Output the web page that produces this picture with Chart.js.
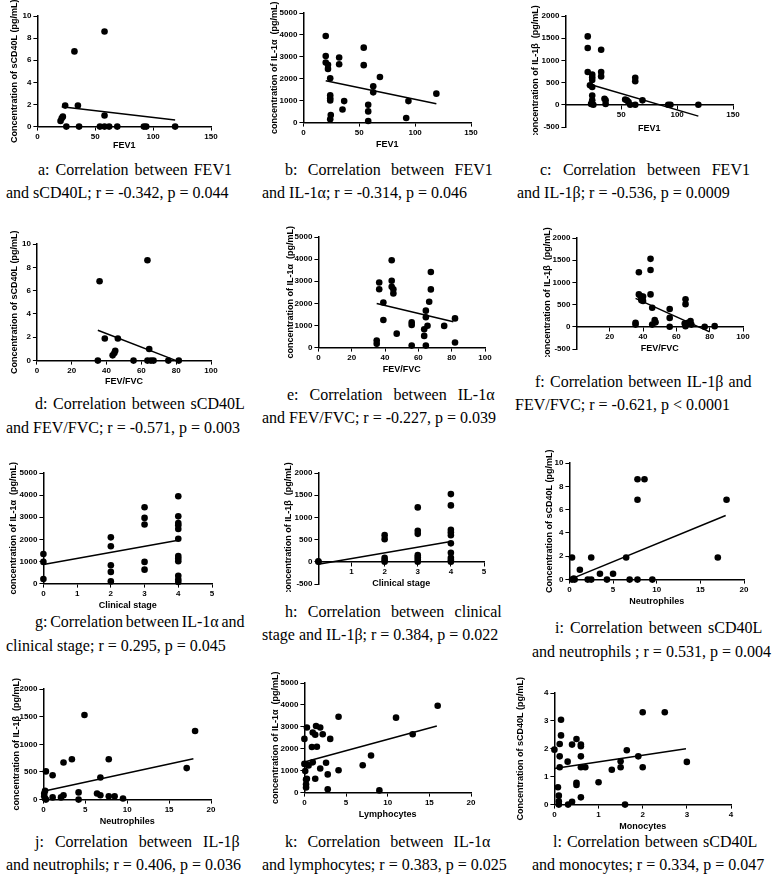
<!DOCTYPE html>
<html>
<head>
<meta charset="utf-8">
<script src="https://cdn.jsdelivr.net/npm/chart.js@4.4.1/dist/chart.umd.min.js"></script>
<style>
  body { margin: 0; background: #fff; width: 778px; height: 878px; position: relative; overflow: hidden; }
  canvas { position: absolute; }
  .cap { position: absolute; font-family: 'Liberation Serif', 'Times New Roman', serif; font-size: 16px; line-height: 18px; color: #000; white-space: nowrap; }
</style>
</head>
<body>
<script>
// a: FEV1 vs sCD40L
const aX = [58, 32, 24, 35, 22, 21, 20, 58, 25, 36, 54, 58, 62, 69, 92, 94, 119];
const aY = [8.6, 6.8, 1.9, 1.9, 0.9, 0.75, 0.5, 1.0, 0, 0, 0, 0, 0, 0, 0, 0, 0];
const aFitX = [21, 119], aFitY = [1.8, 0.6];
// b: FEV1 vs IL-1a
const bX = [20, 20, 20, 22, 22, 24, 24, 24, 24, 24.5, 24, 32, 32, 36.5, 35, 54, 54, 58, 58, 58, 62.5, 62.5, 68.5, 92, 94, 119];
const bY = [3950, 3040, 2740, 2640, 2450, 2020, 1250, 1110, 1010, 350, 150, 2970, 2660, 980, 600, 3420, 2620, 810, 510, 75, 1660, 1380, 2080, 210, 980, 1320];
const bFitX = [20, 119], bFitY = [1910, 860];
// c: FEV1 vs IL-1b
const cX = [20, 20, 20, 22, 24, 24, 24, 24, 24, 24, 23, 25, 32, 32, 32, 35, 36, 36, 53.5, 55, 56.5, 58, 62.5, 62.5, 62.5, 69, 92, 94, 119];
const cY = [1540, 1280, 740, 440, 680, 620, 560, 400, 210, 100, 20, 0, 1240, 740, 640, 135, 100, 20, 120, 100, 60, 0, 610, 530, 0, 100, 0, 0, 0];
const cFitX = [20, 119], cFitY = [475, -255];
// d: FEV/FVC vs sCD40L
const dX = [36, 63.5, 39, 46.5, 45, 44.5, 43.5, 64.5, 35, 55.5, 63.5, 65.5, 67, 75.5, 81.5];
const dY = [6.8, 8.6, 1.9, 1.9, 0.85, 0.65, 0.45, 1.0, 0, 0, 0, 0, 0, 0, 0];
const dFitX = [35, 80], dFitY = [2.6, 0];
// e: FEV/FVC vs IL-1a
const eX = [36.5, 36.5, 35, 35, 39, 39, 44, 44, 44, 45, 45, 47, 56, 56, 56, 63.5, 63.5, 64.5, 64.5, 64.5, 65.5, 66.5, 67.5, 67.5, 75.5, 82, 82];
const eY = [2940, 2640, 320, 170, 2040, 1250, 3950, 3020, 2750, 2640, 2450, 630, 1140, 1020, 90, 830, 530, 90, 1670, 1370, 990, 2070, 3420, 2630, 980, 1320, 230];
const eFitX = [35, 81], eFitY = [1995, 1170];
// f: FEV/FVC vs IL-1b
const fX = [35.5, 35.5, 37.5, 37.5, 38.5, 39, 40, 40, 39.5, 44.5, 44.5, 44.5, 45.5, 45.5, 47, 47.5, 56, 56, 56, 65.5, 65.5, 65, 65.5, 67, 68.5, 69, 77, 83];
const fY = [90, 50, 1230, 730, 690, 600, 680, 580, 640, 1530, 1280, 730, 430, 50, 150, 100, 400, 200, 0, 620, 510, 75, 15, 90, 130, 50, 0, 15];
const fFitX = [35.5, 80], fFitY = [640, -115];
// g: clinical stage vs IL-1a
const gX = [0, 0, 0, 2, 2, 2, 2, 2, 3, 3, 3, 3, 3, 4, 4, 4, 4, 4, 4, 4, 4, 4, 4, 4, 4];
const gY = [1340, 980, 210, 2090, 1690, 830, 530, 100, 3450, 2970, 2670, 980, 630, 3950, 3040, 2740, 2640, 2470, 2030, 1250, 1130, 1010, 350, 180, 75];
const gFitX = [0, 4], gFitY = [860, 1960];
// h: clinical stage vs IL-1b
const hX = [0, 0, 2, 2, 2, 2, 2, 3, 3, 3, 3, 3, 3, 3, 4, 4, 4, 4, 4, 4, 4, 4, 4, 4];
const hY = [0, 10, 600, 510, 90, 40, 0, 1225, 700, 630, 150, 100, 50, 0, 1525, 1270, 720, 665, 600, 415, 205, 90, 40, 0];
const hFitX = [0, 4], hFitY = [-55, 455];
// i: neutrophils vs sCD40L
const iX = [0.3, 0.3, 0.5, 0.6, 1.2, 2.1, 2.5, 2.5, 3.5, 4.3, 5, 6.5, 6.9, 7.8, 7.8, 7.8, 8.6, 9.5, 17, 18];
const iY = [1.9, 0, 0.1, 0, 0.85, 0, 0, 1.9, 0.5, 0, 0.5, 1.9, 0, 8.6, 6.85, 0, 8.6, 0, 1.9, 6.85];
const iFitX = [0, 17.9], iFitY = [0, 5.5];
// j: neutrophils vs IL-1b
const jX = [0.3, 0.2, 0.1, 0.1, 0.2, 0.3, 1.1, 1.1, 2.1, 2.4, 2.4, 3.4, 4.2, 4.2, 4.9, 6.4, 6.8, 6.8, 7.8, 7.8, 8.5, 9.5, 17.1, 18.1];
const jY = [510, 160, 110, 60, 20, 0, 440, 40, 40, 80, 670, 730, 130, 0, 1530, 110, 80, 400, 730, 60, 60, 20, 570, 1240];
const jFitX = [0, 17.9], jFitY = [150, 740];
// k: lymphocytes vs IL-1a
const kX = [0, 0, 0.1, 0.2, 0.2, 0.2, 0.3, 0.3, 0.3, 0.5, 0.9, 1.0, 1.0, 1.3, 1.4, 1.5, 1.9, 1.9, 1.3, 2.2, 2.6, 2.8, 2.8, 3.1, 4.1, 4.1, 7, 8, 9, 11, 13, 16];
const kY = [2450, 1310, 980, 600, 380, 230, 2970, 1280, 630, 1240, 2080, 1380, 2740, 2640, 3040, 2090, 2970, 1100, 630, 2660, 1360, 830, 150, 2450, 3460, 1020, 1250, 1690, 100, 3420, 2660, 3960];
const kFitX = [0, 15.9], kFitY = [1400, 3040];
// l: monocytes vs sCD40L
const lX = [0, 0.08, 0.1, 0.1, 0.1, 0.12, 0.12, 0.12, 0.15, 0.15, 0.3, 0.31, 0.4, 0.4, 0.5, 0.5, 0.5, 0.6, 0.6, 0.6, 0.6, 0.6, 0.7, 1, 1.3, 1.5, 1.5, 1.6, 1.64, 1.9, 2.0, 2.0, 2.5, 3.0];
const lY = [1.97, 0.62, 0.32, 0.12, 0, 2.17, 1.73, 1.34, 3.04, 2.48, 1.54, 0, 0.1, 2.15, 2.35, 0.78, 0.7, 2.15, 2.09, 1.73, 1.34, 0.26, 1.34, 0.8, 1.25, 1.34, 1.55, 0, 1.95, 1.73, 3.31, 1.34, 3.31, 1.53];
const lFitX = [0, 2.98], lFitY = [1.29, 2.0];

const SANS = "'Liberation Sans', Arial, sans-serif";
const TITLE_SC = 'Concentration of sCD40L (pg/mL)';
const TITLE_1A = 'concentration of IL-1\u03b1  (pg/mL)';
const TITLE_1B = 'concentration of IL-1\u03b2  (pg/mL)';

function pts(xs, ys) {
  return xs.map((x, i) => ({ x: x, y: ys[i] }));
}

function panel(p) {
  const dyn = p.Z !== undefined;       // x axis crossing at y = 0
  const yw = p.L - (p.yTitleX - 7.4);
  const pt = Math.min(22, p.T);
  const pr = 12, pb = 8;
  const xh = dyn ? p.xTitleY - p.Z + 5.4 : p.xTitleY - p.B + 5.4;
  const w = yw + p.R - p.L + pr;
  const h = pt + p.B - p.T + (dyn ? pb : xh);

  const canvas = document.createElement('canvas');
  canvas.width = Math.round(w);
  canvas.height = Math.round(h);
  canvas.style.left = (p.L - yw) + 'px';
  canvas.style.top = (p.T - pt) + 'px';
  document.body.appendChild(canvas);

  const tickFont = { family: SANS, size: 8, weight: 'bold' };
  const titleFont = { family: SANS, size: 9, weight: 'bold' };

  new Chart(canvas, {
    data: {
      datasets: [{
        type: 'scatter',
        data: pts(p.xs, p.ys),
        pointRadius: 3.3,
        pointBackgroundColor: '#000',
        pointBorderWidth: 0,
        clip: false
      }, {
        type: 'line',
        data: pts(p.fx, p.fy),
        borderColor: '#000',
        borderWidth: 1.5,
        pointRadius: 0,
        clip: false
      }]
    },
    options: {
      responsive: false,
      animation: false,
      devicePixelRatio: 1,
      layout: { padding: { top: pt, right: pr, bottom: dyn ? pb : 0, left: 0 } },
      plugins: { legend: { display: false }, tooltip: { enabled: false } },
      scales: {
        x: {
          type: 'linear',
          position: dyn ? { y: 0 } : 'bottom',
          min: p.xMin, max: p.xMax,
          grid: { drawOnChartArea: false, drawTicks: true, tickLength: 4, color: '#000', lineWidth: 1 },
          border: { color: '#000', width: 1.5 },
          ticks: {
            stepSize: p.xStep, color: '#000', font: tickFont, padding: 1, maxRotation: 0, autoSkip: false,
            callback: v => (dyn && v === 0) ? '' : String(v)
          },
          title: { display: true, text: p.xTitle, color: '#000', font: titleFont, padding: 0 },
          afterFit: s => { s.height = xh; }
        },
        y: {
          type: 'linear',
          position: 'left',
          min: p.yMin, max: p.yMax,
          grid: { drawOnChartArea: false, drawTicks: true, tickLength: 4, color: '#000', lineWidth: 1 },
          border: { color: '#000', width: 1.5 },
          ticks: { stepSize: p.yStep, color: '#000', font: tickFont, padding: 2, autoSkip: false, callback: v => String(v) },
          title: { display: true, text: p.yTitle, color: '#000', font: titleFont, padding: { top: 2, bottom: 0 } },
          afterFit: s => { s.width = yw; }
        }
      }
    }
  });
}

// first caption line is stretched to a given width through word spacing
function capLine(x, y, text, width) {
  const d = document.createElement('div');
  d.className = 'cap';
  d.style.left = x + 'px';
  d.style.top = (y - 9) + 'px';
  d.textContent = text;
  document.body.appendChild(d);
  if (width) {
    const gaps = text.split(' ').length - 1;
    const extra = (width - d.offsetWidth) / gaps;
    d.style.wordSpacing = extra + 'px';
  }
}

function caption(x1, y1, w1, t1, x2, y2, t2) {
  capLine(x1, y1, t1, w1);
  capLine(x2, y2, t2);
}

panel({ xs: aX, ys: aY, fx: aFitX, fy: aFitY, L: 37, T: 16, R: 211, B: 127, xMin: 0, xMax: 150, xStep: 50, yMin: 0, yMax: 10, yStep: 2, yTitle: TITLE_SC, yTitleX: 14, xTitle: 'FEV1', xTitleY: 146 });
panel({ xs: bX, ys: bY, fx: bFitX, fy: bFitY, L: 303, T: 13, R: 471, B: 123, xMin: 0, xMax: 150, xStep: 50, yMin: 0, yMax: 5000, yStep: 1000, yTitle: TITLE_1A, yTitleX: 274, xTitle: 'FEV1', xTitleY: 145 });
panel({ xs: cX, ys: cY, fx: cFitX, fy: cFitY, L: 565, T: 16, R: 733, B: 127, Z: 104, xMin: 0, xMax: 150, xStep: 50, yMin: -500, yMax: 2000, yStep: 500, yTitle: TITLE_1B, yTitleX: 535, xTitle: 'FEV1', xTitleY: 128 });
panel({ xs: dX, ys: dY, fx: dFitX, fy: dFitY, L: 37, T: 244, R: 211, B: 361, xMin: 0, xMax: 100, xStep: 20, yMin: 0, yMax: 10, yStep: 2, yTitle: TITLE_SC, yTitleX: 14.5, xTitle: 'FEV/FVC', xTitleY: 382 });
panel({ xs: eX, ys: eY, fx: eFitX, fy: eFitY, L: 318, T: 237, R: 485, B: 348, xMin: 0, xMax: 100, xStep: 20, yMin: 0, yMax: 5000, yStep: 1000, yTitle: TITLE_1A, yTitleX: 290, xTitle: 'FEV/FVC', xTitleY: 370 });
panel({ xs: fX, ys: fY, fx: fFitX, fy: fFitY, L: 576, T: 238, R: 743, B: 349, Z: 327, xMin: 0, xMax: 100, xStep: 20, yMin: -500, yMax: 2000, yStep: 500, yTitle: TITLE_1B, yTitleX: 547, xTitle: 'FEV/FVC', xTitleY: 349 });
panel({ xs: gX, ys: gY, fx: gFitX, fy: gFitY, L: 43, T: 473, R: 212, B: 584, xMin: 0, xMax: 5, xStep: 1, yMin: 0, yMax: 5000, yStep: 1000, yTitle: TITLE_1A, yTitleX: 13, xTitle: 'Clinical stage', xTitleY: 606 });
panel({ xs: hX, ys: hY, fx: hFitX, fy: hFitY, L: 318, T: 473, R: 484, B: 584, Z: 562, xMin: 0, xMax: 5, xStep: 1, yMin: -500, yMax: 2000, yStep: 500, yTitle: TITLE_1B, yTitleX: 288, xTitle: 'Clinical stage', xTitleY: 584 });
panel({ xs: iX, ys: iY, fx: iFitX, fy: iFitY, L: 569, T: 463, R: 744, B: 580, xMin: 0, xMax: 20, xStep: 5, yMin: 0, yMax: 10, yStep: 2, yTitle: TITLE_SC, yTitleX: 549, xTitle: 'Neutrophiles', xTitleY: 602 });
panel({ xs: jX, ys: jY, fx: jFitX, fy: jFitY, L: 43, T: 689, R: 211, B: 800, xMin: 0, xMax: 20, xStep: 5, yMin: 0, yMax: 2000, yStep: 500, yTitle: TITLE_1B, yTitleX: 16, xTitle: 'Neutrophiles', xTitleY: 822 });
panel({ xs: kX, ys: kY, fx: kFitX, fy: kFitY, L: 304, T: 683, R: 471, B: 793, xMin: 0, xMax: 20, xStep: 5, yMin: 0, yMax: 5000, yStep: 1000, yTitle: TITLE_1A, yTitleX: 275, xTitle: 'Lymphocytes', xTitleY: 815 });
panel({ xs: lX, ys: lY, fx: lFitX, fy: lFitY, L: 554, T: 693, R: 731, B: 805, xMin: 0, xMax: 4, xStep: 1, yMin: 0, yMax: 4, yStep: 1, yTitle: TITLE_SC, yTitleX: 520, xTitle: 'Monocytes', xTitleY: 827 });

caption(38, 170, 200, 'a:  Correlation  between  FEV1', 6, 193, 'and sCD40L; r = -0.342, p = 0.044');
caption(285, 170, 208, 'b: Correlation between FEV1', 262, 193, 'and IL-1\u03b1; r = -0.314, p = 0.046');
caption(540, 170, 210, 'c: Correlation between FEV1', 517, 193, 'and IL-1\u03b2; r = -0.536, p = 0.0009');
caption(35, 404, 210, 'd: Correlation between sCD40L', 6, 428, 'and FEV/FVC; r = -0.571, p = 0.003');
caption(287, 395, 208, 'e: Correlation between IL-1\u03b1', 262, 418, 'and FEV/FVC; r = -0.227, p = 0.039');
caption(535, 382, 217, 'f: Correlation between IL-1\u03b2 and', 515, 405, 'FEV/FVC; r = -0.621, p < 0.0001');
caption(35, 622, 210, 'g: Correlation between IL-1\u03b1 and', 6, 646, 'clinical stage; r = 0.295, p = 0.045');
caption(285, 612, 217, 'h: Correlation between clinical', 262, 635, 'stage and IL-1\u03b2; r = 0.384, p = 0.022');
caption(555, 628, 207, 'i: Correlation between sCD40L', 532, 652, 'and neutrophils ; r = 0.531, p = 0.004');
caption(35, 842, 205, 'j: Correlation between IL-1\u03b2', 6, 865, 'and neutrophils; r = 0.406, p = 0.036');
caption(285, 842, 205, 'k: Correlation between IL-1\u03b1', 262, 865, 'and lymphocytes; r = 0.383, p = 0.025');
caption(553, 842, 204, 'l: Correlation between sCD40L', 532, 865, 'and monocytes; r = 0.334, p = 0.047');
</script>
</body>
</html>
